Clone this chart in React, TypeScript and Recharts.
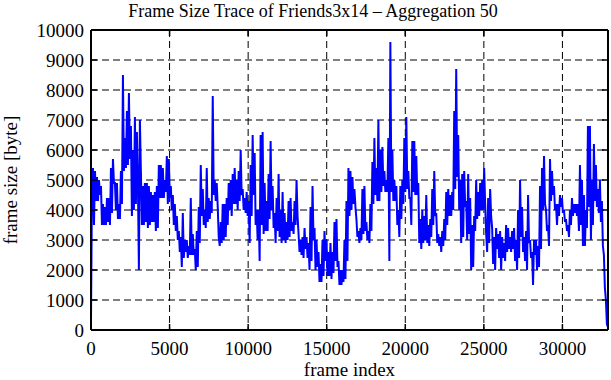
import React from "react";
import { LineChart, Line, XAxis, YAxis, CartesianGrid } from "recharts";

const FONT = "'Liberation Serif', 'Times New Roman', serif";

// one sample per ~63.5 frames
const STEP = 63.5;
const X_MAX = 32900;

const xTicks = [0, 5000, 10000, 15000, 20000, 25000, 30000];
const yTicks = [0, 1000, 2000, 3000, 4000, 5000, 6000, 7000, 8000, 9000, 10000];

const frameSizes = [
  // 0 - 4700
  400, 4800, 5400, 3500, 5300, 4300, 5100, 4300, 5000, 4500, 4800, 3500, 4200, 3500, 4100, 3500,
  4400, 3600, 4400, 3500, 5400, 3900, 5700, 4900, 4900, 4000, 4900, 3700, 4200, 3700, 5300, 4200,
  8500, 5300, 6400, 5400, 7300, 5500, 7900, 5700, 6800, 3800, 6000, 4000, 7100, 4200, 6600, 4900,
  2000, 7000, 5300, 3500, 4800, 3500, 4900, 3600, 4900, 3400, 4800, 3500, 4600, 3600, 4500, 3600,
  4600, 3300, 4800, 3400, 5500, 4400, 5500, 4400, 5400, 4400, 5000, 4600,
  // 4800 - 9400
  5800, 4200, 5700, 4400, 4800, 4000, 4500, 3500, 4200, 3300, 3800, 3000, 3300, 2600, 3100, 2100,
  3900, 2400, 3000, 2600, 3000, 2400, 2800, 2500, 4400, 2500, 3200, 2500, 2700, 2000, 3300, 2100,
  4100, 2900, 5500, 3800, 4700, 3500, 4000, 3400, 5400, 3600, 4400, 3700, 4300, 3900, 7800, 4500,
  5000, 4300, 4900, 4100, 3100, 2800, 3600, 2900, 4200, 3000, 4200, 3100, 4400, 3500, 4900, 4000,
  5000, 3800, 5200, 4200, 5400, 4200, 5000, 4000, 5300, 4300,
  // 9500 - 14100
  6000, 4500, 4700, 4000, 4400, 3900, 4600, 3800, 4300, 2900, 5500, 3800, 6500, 4500, 5900, 3500,
  4000, 3000, 4000, 2300, 6500, 3500, 6600, 3200, 4900, 3300, 4300, 3300, 5200, 3700, 6300, 4000,
  4800, 3400, 3900, 2900, 4400, 3300, 5200, 3100, 4000, 2900, 4600, 3000, 3900, 2900, 3600, 3000,
  4300, 3100, 4400, 3300, 3600, 3200, 4300, 3500, 5000, 3800, 3200, 2600, 3000, 2500, 3100, 2400,
  3400, 2700, 3100, 2400, 2900, 2000, 4100, 2300, 4800, 3000,
  // 14200 - 18800
  3400, 2000, 3000, 2100, 2600, 1600, 2200, 1600, 3000, 1800, 3300, 2300, 3000, 1800, 2600, 1800,
  2900, 1700, 2600, 1900, 3600, 2300, 3700, 2100, 2300, 1500, 2000, 1500, 2000, 1600, 3000, 1700,
  4300, 2300, 5400, 3800, 5300, 4000, 5100, 4200, 4700, 4100, 3700, 3100, 3300, 2900, 3400, 3000,
  4700, 3200, 4800, 3300, 3600, 3000, 3300, 2900, 4200, 3300, 5600, 4200, 6400, 4500, 5400, 4300,
  7000, 4300, 6000, 4600, 6100, 4800, 5300, 4600, 5000, 4600,
  // 18900 - 23600
  6400, 2300, 9600, 4600, 6000, 4300, 5000, 4300, 4800, 3500, 4000, 3100, 4800, 3700, 5000, 4200,
  6400, 4600, 7100, 4700, 5300, 4400, 4400, 3500, 6300, 4600, 6300, 4500, 5800, 4500, 4900, 2900,
  3700, 2700, 4000, 2900, 3800, 3000, 4500, 2900, 3500, 2800, 3700, 3100, 4700, 3500, 5300, 3800,
  3900, 2900, 3200, 2800, 3100, 2600, 3300, 2800, 3700, 3000, 4600, 3500, 4700, 3800, 4500, 3800,
  4600, 4000, 7300, 4700, 8700, 5100, 6500, 4000, 5000, 2900,
  // 23700 - 28300
  5200, 3100, 5300, 4100, 4300, 3000, 5200, 3200, 4400, 2000, 3500, 2100, 3800, 3300, 5000, 3700,
  4600, 3800, 4900, 4000, 5000, 4000, 5400, 4200, 3200, 2600, 4400, 2900, 4700, 3800, 3400, 2200,
  3100, 2000, 3400, 2700, 3200, 2400, 3300, 2000, 3100, 2400, 2900, 2300, 3500, 2600, 3400, 2700,
  3100, 2600, 3300, 2700, 3400, 2300, 3000, 2000, 4000, 2400, 5000, 3100, 4100, 2600, 3100, 2300,
  3300, 2000, 4500, 2900, 3000, 2400, 2600, 1500, 3000, 2500,
  // 28400 - end
  3000, 2000, 2800, 2100, 4800, 2700, 5400, 4000, 5800, 4200, 4000, 3300, 3500, 2800, 5700, 4300,
  5300, 4500, 4800, 4000, 4200, 3500, 4200, 3800, 4500, 4100, 4400, 3900, 4000, 3600, 3700, 3300,
  3500, 3100, 4000, 3500, 4400, 3800, 4200, 3900, 4200, 3800, 4200, 3300, 5500, 3500, 5000, 2800,
  4500, 2800, 4000, 3400, 6800, 4100, 6800, 3000, 5000, 3500, 6200, 4300, 5500, 4100, 4700, 3900,
  5000, 3600, 4300, 2800, 2500, 1400, 1000, 200, 100,
];

const data = frameSizes.map((size, i) => ({ frame: i * STEP, size }));

const axisLine = { stroke: "#000", strokeWidth: 2 };
const tickLine = { stroke: "#000", strokeWidth: 1.5 };
const tickFont = { fill: "#000", fontSize: 19, fontFamily: FONT };
const noLabel = () => <g />;

export default function App() {
  return (
    <div
      style={{
        position: "absolute",
        left: 0,
        top: 0,
        width: 611,
        height: 380,
        background: "#fff",
        fontFamily: FONT,
      }}
    >
      <LineChart
        width={611}
        height={380}
        data={data}
        margin={{ top: 29, right: 2, bottom: 0, left: 0 }}
      >
        <CartesianGrid stroke="#000" strokeDasharray="7 4" strokeWidth={1} />
        <XAxis
          dataKey="frame"
          type="number"
          domain={[0, X_MAX]}
          ticks={xTicks}
          interval={0}
          height={50}
          tickSize={-6}
          tickMargin={18}
          axisLine={axisLine}
          tickLine={tickLine}
          tick={tickFont}
          allowDataOverflow
          label={{
            value: "frame index",
            position: "insideBottom",
            offset: 4,
            fill: "#000",
            fontSize: 19,
            fontFamily: FONT,
          }}
        />
        <XAxis
          xAxisId="top"
          orientation="top"
          dataKey="frame"
          type="number"
          domain={[0, X_MAX]}
          ticks={xTicks}
          interval={0}
          height={1}
          tickSize={-6}
          axisLine={axisLine}
          tickLine={tickLine}
          tick={noLabel}
          allowDataOverflow
        />
        <YAxis
          type="number"
          domain={[0, 10000]}
          ticks={yTicks}
          interval={0}
          width={91}
          tickSize={-6}
          tickMargin={13}
          axisLine={axisLine}
          tickLine={tickLine}
          tick={tickFont}
          allowDataOverflow
          label={{
            value: "frame size [byte]",
            angle: -90,
            position: "insideLeft",
            offset: 10,
            fill: "#000",
            fontSize: 19,
            fontFamily: FONT,
            style: { textAnchor: "middle" },
          }}
        />
        <YAxis
          yAxisId="right"
          orientation="right"
          type="number"
          domain={[0, 10000]}
          ticks={yTicks}
          interval={0}
          width={1}
          tickSize={-6}
          axisLine={axisLine}
          tickLine={tickLine}
          tick={noLabel}
          allowDataOverflow
        />
        <Line
          dataKey="size"
          type="linear"
          stroke="#0000ff"
          strokeWidth={2}
          dot={false}
          isAnimationActive={false}
        />
      </LineChart>
      <div
        style={{
          position: "absolute",
          top: 2,
          left: 313,
          transform: "translateX(-50%)",
          whiteSpace: "nowrap",
          fontSize: 18,
          lineHeight: "18px",
          color: "#000",
        }}
      >
        Frame Size Trace of Friends3x14 – Aggregation 50
      </div>
    </div>
  );
}
